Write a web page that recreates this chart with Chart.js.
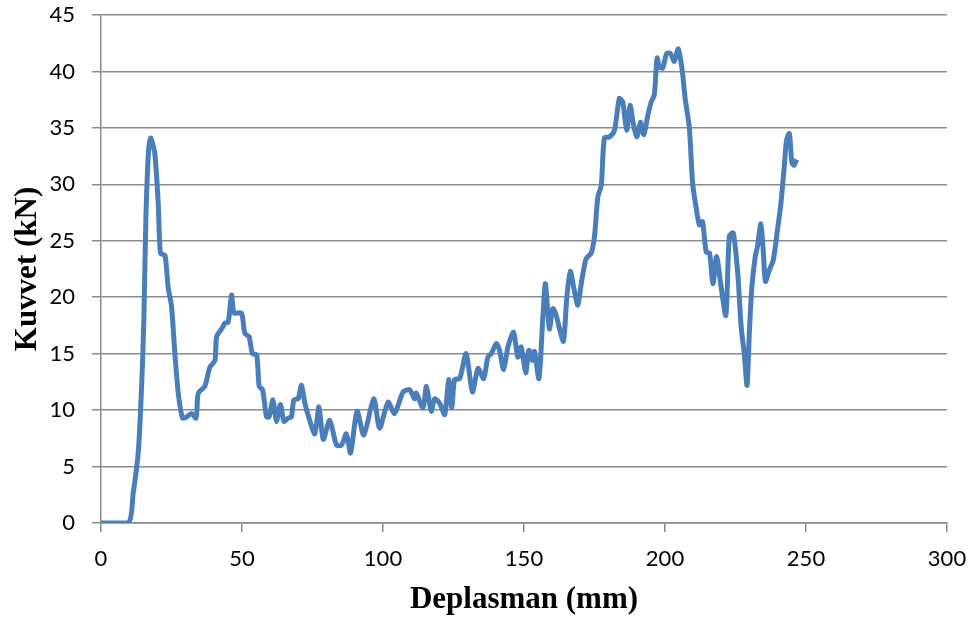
<!DOCTYPE html>
<html>
<head>
<meta charset="utf-8">
<script src="https://cdn.jsdelivr.net/npm/chart.js@4/dist/chart.umd.min.js"></script>
<style>
html,body{margin:0;padding:0;background:#fff;}
#wrap{width:975px;height:623px;}
</style>
</head>
<body>
<div id="wrap"><canvas id="c" width="975" height="623"></canvas></div>
<script>
const xValues = [0,9.7,11.4,13.2,14.4,15.2,15.9,16.8,17.6,18.3,19.1,20.3,21.1,22.7,23.8,25,26.2,27.4,28.9,30.4,32.1,33.7,34.5,36.8,38.6,40.4,41,42.8,43.9,45.1,46.3,47.2,49.8,51,52.5,53.7,55.2,56.1,57.3,58.7,59.6,61,62.2,63.6,64.9,66.4,67.5,68.4,69.9,71.1,72.3,74,75.8,77.3,78.8,81.1,83.5,85.3,87,88.5,90.8,93.2,96.7,98.8,101.8,104.1,107.1,109.5,111.2,111.8,114.2,115.4,117.1,118.3,120.1,121.9,123.3,124.4,125.4,127.2,129.5,131.7,133.7,135.7,137.2,138.4,140.2,141.3,142.8,144.3,146.3,147.8,149,150.6,151.7,152.9,153.7,155.3,156.7,157.6,159,160.2,161.4,162.6,164,165.2,166.4,167.9,169.1,170.3,172,173.8,175,176.2,177.4,178.5,180.3,182.1,183.8,185,186.4,187.6,188.8,190.1,191.3,192.5,193.9,195.1,196.2,197.2,198,199.2,200.6,201.9,203.3,204.7,206.1,207.2,208.6,209.8,211,212.2,213.3,214.6,215.8,217,218.3,219.9,221.6,222.8,224.2,225.8,227,228.1,229.1,229.9,230.8,232,232.8,234,234.9,235.6,237,238.4,239.9,241.1,242.3,243.1,244.1,245,245.8,246.7];
const forceValues = [0,0,2.6,6.2,12.1,18,26.8,32.7,34.1,33.6,32.7,28.3,23.9,23.7,20.9,19.2,15.0,11.5,9.3,9.4,9.7,9.3,11.5,12.1,13.8,14.4,16.5,17.2,17.7,17.8,20.2,18.6,18.6,16.8,16.5,15.0,14.9,12.1,11.8,9.4,9.4,10.9,9.0,10.5,9.0,9.3,9.4,10.9,11.0,12.2,10.6,9.1,7.9,10.3,7.4,9.1,6.9,6.9,7.9,6.2,9.9,7.8,11.0,8.4,10.7,9.7,11.6,11.8,11.0,11.5,10.2,12.1,9.9,11.0,10.6,9.6,12.7,10.2,12.7,12.8,15.0,11.6,13.7,12.8,14.7,15.0,15.9,15.3,13.6,15.6,16.9,14.7,15.6,13.3,15.3,14.4,15.2,12.8,18.3,21.2,17.2,19.0,18.4,17.2,16.1,20.0,22.3,20.5,19.3,21.2,23.4,23.9,25.4,28.9,29.9,34.1,34.2,34.8,37.6,37.3,34.8,37.0,35.3,34.2,35.5,34.4,36.1,37.3,37.9,41.2,40.4,40.3,41.6,41.6,40.9,42.0,40.1,37.5,35.1,30.1,28.0,26.4,26.7,24.0,23.9,21.2,23.6,20.9,18.4,25.4,25.7,22.1,17.4,15.0,12.2,16.8,20.9,23.6,24.5,26.5,23.9,21.4,22.4,23.3,26.0,28.3,31.6,33.9,34.5,31.9,31.7,32.2];
const xTitle = 'Deplasman (mm)';
const yTitle = 'Kuvvet (kN)';

const points = xValues.map((x, i) => ({x: x, y: forceValues[i]}));
const gridColor = '#8a8a8a';

new Chart(document.getElementById('c'), {
  type: 'scatter',
  data: {
    datasets: [{
      data: points,
      showLine: true,
      borderColor: '#4a7ebb',
      borderWidth: 5,
      pointRadius: 0,
      tension: 0.25,
      fill: false
    }]
  },
  options: {
    responsive: false,
    animation: false,
    layout: {padding: {left: 0, right: 28, top: 15, bottom: 0}},
    plugins: {legend: {display: false}, tooltip: {enabled: false}},
    scales: {
      x: {
        type: 'linear',
        min: 0, max: 300,
        afterFit: (s) => { s.height = 100; s.paddingLeft = 0; s.paddingRight = 0; },
        ticks: {stepSize: 50, color: '#000', font: {family: 'Lato', size: 22}, padding: 14},
        grid: {drawOnChartArea: false, color: gridColor, tickLength: 9, lineWidth: 1.5},
        border: {color: gridColor, width: 1.5},
        title: {display: true, text: xTitle, color: '#000', font: {family: 'Liberation Serif', size: 31, weight: 'bold'}, padding: {top: 0, bottom: 4}}
      },
      y: {
        min: 0, max: 45,
        afterFit: (s) => { s.width = 101; s.paddingTop = 0; s.paddingBottom = 0; },
        ticks: {stepSize: 5, color: '#000', font: {family: 'Lato', size: 22}, padding: 17},
        grid: {color: gridColor, tickLength: 9, lineWidth: 1.5},
        border: {color: gridColor, width: 1.5},
        title: {display: true, text: yTitle, color: '#000', font: {family: 'Liberation Serif', size: 31, weight: 'bold'}, padding: {top: 9, bottom: 0}}
      }
    }
  }
});
</script>
</body>
</html>
